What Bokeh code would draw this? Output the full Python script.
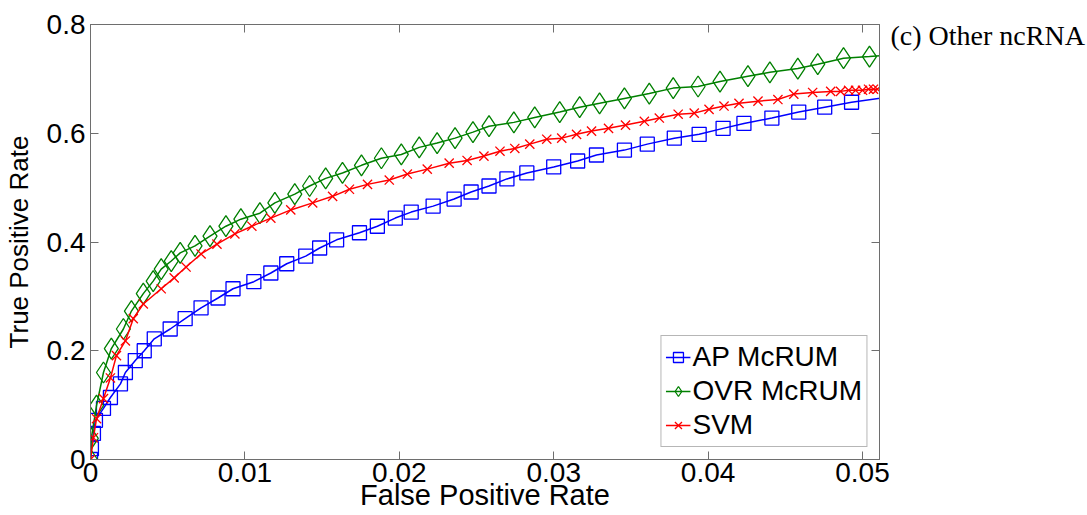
from bokeh.plotting import figure
from bokeh.models import LinearAxis, Range1d, FixedTicker, CustomJSTickFormatter
from bokeh.embed import file_html
from bokeh.resources import INLINE

# ---- data ----
ap_fpr = [0.0, 0.00006, 0.00019, 0.00032, 0.00084, 0.00129, 0.00194, 0.00226, 0.00290, 0.00348,
          0.00413, 0.00516, 0.00613, 0.00716, 0.00826, 0.00923, 0.01058, 0.01168, 0.01271, 0.01394,
          0.01484, 0.01594, 0.01742, 0.01858, 0.01974, 0.02077, 0.02219, 0.02355, 0.02465, 0.02581,
          0.02697, 0.02826, 0.03000, 0.03155, 0.03277, 0.03458, 0.03606, 0.03781, 0.03942, 0.04097,
          0.04232, 0.04413, 0.04587, 0.04755, 0.04929, 0.0520]
ap_tpr = [0.0, 0.020, 0.048, 0.072, 0.094, 0.114, 0.139, 0.160, 0.182, 0.200,
          0.222, 0.240, 0.259, 0.279, 0.297, 0.314, 0.327, 0.343, 0.360, 0.374,
          0.389, 0.404, 0.417, 0.429, 0.444, 0.455, 0.466, 0.479, 0.492, 0.503,
          0.516, 0.527, 0.538, 0.549, 0.560, 0.569, 0.580, 0.591, 0.598, 0.609,
          0.618, 0.628, 0.639, 0.648, 0.657, 0.668]

ovr_fpr = [0.0, 0.00005, 0.00039, 0.00084, 0.00135, 0.00213, 0.00265, 0.00342, 0.00406, 0.00458,
           0.00523, 0.00581, 0.00677, 0.00774, 0.00877, 0.00974, 0.01097, 0.01194, 0.01323, 0.01419,
           0.01523, 0.01632, 0.01755, 0.01884, 0.02013, 0.02129, 0.02245, 0.02361, 0.02477, 0.02581,
           0.02742, 0.02877, 0.03039, 0.03168, 0.03297, 0.03458, 0.03619, 0.03774, 0.03935, 0.04077,
           0.04258, 0.04400, 0.04581, 0.04710, 0.04877, 0.05045, 0.0520]
ovr_tpr = [0.0, 0.039, 0.099, 0.160, 0.204, 0.240, 0.273, 0.305, 0.328, 0.350,
           0.365, 0.380, 0.393, 0.411, 0.429, 0.442, 0.453, 0.472, 0.488, 0.503,
           0.517, 0.527, 0.541, 0.554, 0.561, 0.574, 0.582, 0.591, 0.602, 0.613,
           0.620, 0.629, 0.639, 0.648, 0.655, 0.664, 0.673, 0.683, 0.686, 0.695,
           0.705, 0.712, 0.719, 0.727, 0.738, 0.741, 0.744]

svm_fpr = [0.0, 0.00019, 0.00039, 0.00084, 0.00129, 0.00168, 0.00226, 0.00277, 0.00342, 0.00458,
           0.00542, 0.00619, 0.00716, 0.00819, 0.00935, 0.01045, 0.01168, 0.01297, 0.01439, 0.01568,
           0.01677, 0.01794, 0.01935, 0.02052, 0.02181, 0.02323, 0.02439, 0.02548, 0.02652, 0.02748,
           0.02845, 0.02955, 0.03052, 0.03148, 0.03245, 0.03355, 0.03465, 0.03587, 0.03684, 0.03806,
           0.03910, 0.04006, 0.04103, 0.04200, 0.04323, 0.04452, 0.04555, 0.04677, 0.04794, 0.04858,
           0.04910, 0.04955, 0.05000, 0.05039, 0.05071, 0.05097]
svm_tpr = [0.0, 0.040, 0.075, 0.112, 0.150, 0.191, 0.218, 0.259, 0.286, 0.314,
           0.334, 0.354, 0.378, 0.396, 0.415, 0.429, 0.444, 0.459, 0.472, 0.484,
           0.497, 0.506, 0.514, 0.525, 0.534, 0.545, 0.550, 0.558, 0.567, 0.572,
           0.580, 0.589, 0.591, 0.598, 0.604, 0.609, 0.615, 0.622, 0.628, 0.635,
           0.637, 0.644, 0.650, 0.655, 0.659, 0.662, 0.672, 0.675, 0.677, 0.677,
           0.679, 0.679, 0.679, 0.681, 0.681, 0.681]

x_ticks = [0, 0.01, 0.02, 0.03, 0.04, 0.05]
y_ticks = [0, 0.2, 0.4, 0.6, 0.8]
series_names = ["AP McRUM", "OVR McRUM", "SVM"]
panel_title = "(c) Other ncRNA"

FONT = "Liberation Sans"
AXC = "#6e6e6e"

p = figure(width=1087, height=515, output_backend="svg", toolbar_location=None,
           x_range=Range1d(0, 0.0511), y_range=Range1d(0, 0.8),
           min_border_left=87, min_border_right=208, min_border_top=24, min_border_bottom=56)
p.grid.visible = False
p.outline_line_color = AXC
p.background_fill_color = "white"
p.border_fill_color = "white"

# panel caption placed to the right of the frame, near the top
p.title.text = panel_title
p.title.align = "left"
p.title.offset = 800
p.title.standoff = -52
p.title.text_font = "Liberation Serif"
p.title.text_font_size = "28px"
p.title.text_font_style = "normal"
p.title.text_color = "black"

xfmt = CustomJSTickFormatter(code="return tick == 0 ? '0' : tick.toFixed(2);")
yfmt = CustomJSTickFormatter(code="return tick == 0 ? '0' : tick.toFixed(1);")
blank = CustomJSTickFormatter(code="return '';")

for ax, fmt, ticks in ((p.xaxis[0], xfmt, x_ticks), (p.yaxis[0], yfmt, y_ticks)):
    ax.ticker = FixedTicker(ticks=ticks)
    ax.formatter = fmt
    ax.major_tick_in = 8
    ax.major_tick_out = 0
    ax.minor_tick_line_color = None
    ax.axis_line_color = AXC
    ax.major_tick_line_color = AXC
    ax.major_label_text_font = FONT
    ax.major_label_text_font_size = "28px"
    ax.major_label_text_color = "black"
    ax.axis_label_text_font = FONT
    ax.axis_label_text_font_style = "normal"
    ax.axis_label_text_color = "black"

p.xaxis[0].axis_label = "False Positive Rate"
p.xaxis[0].axis_label_text_font_size = "29px"
p.xaxis[0].major_label_standoff = 3
p.xaxis[0].axis_label_standoff = -6
p.yaxis[0].axis_label = "True Positive Rate"
p.yaxis[0].axis_label_text_font_size = "26px"
p.yaxis[0].major_label_standoff = 5
p.yaxis[0].axis_label_standoff = 10

top = LinearAxis(ticker=FixedTicker(ticks=x_ticks), formatter=blank)
right = LinearAxis(ticker=FixedTicker(ticks=y_ticks), formatter=blank)
for ax in (top, right):
    ax.major_tick_in = 8
    ax.major_tick_out = 0
    ax.minor_tick_line_color = None
    ax.axis_line_color = AXC
    ax.major_tick_line_color = AXC
    ax.major_label_text_font_size = "1px"
    ax.major_label_standoff = 0
p.add_layout(top, "above")
p.add_layout(right, "right")

specs = [
    (ap_fpr, ap_tpr, "#0000ff", "square", 14),
    (ovr_fpr, ovr_tpr, "#008000", "diamond", 21),
    (svm_fpr, svm_tpr, "#ff0000", "x", 13),
]
for name, (xs, ys, col, mk, sz) in zip(series_names, specs):
    p.line(xs, ys, line_color=col, line_width=1.5, legend_label=name)
    p.scatter(xs, ys, marker=mk, size=sz, line_color=col, fill_color=None,
              line_width=1.3, legend_label=name)

lg = p.legend[0]
lg.location = "bottom_right"
lg.margin = 12
lg.padding = 4
lg.spacing = 0
lg.label_text_font = FONT
lg.label_text_font_size = "28px"
lg.label_text_color = "black"
lg.label_height = 34
lg.glyph_width = 25
lg.glyph_height = 34
lg.label_standoff = 2
lg.border_line_color = AXC
lg.border_line_width = 1
lg.background_fill_alpha = 1

open("out.html", "w").write(file_html(p, INLINE))
